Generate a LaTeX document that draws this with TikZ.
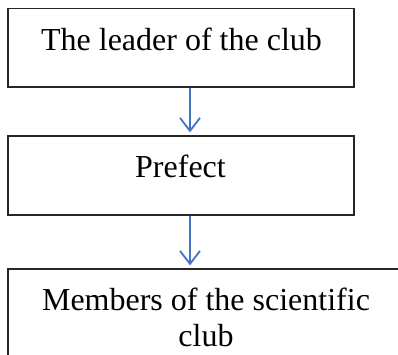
\documentclass[tikz,border=0pt]{standalone}
\usepackage{fontspec}
\setmainfont{Liberation Serif}
\usetikzlibrary{arrows.meta}
\definecolor{arrowblue}{RGB}{68,114,196}
\tikzset{
  box/.style={draw=black!85, line width=1.3pt, minimum width=346pt, inner sep=0pt},
  label/.style={font=\fontsize{32}{36}\selectfont, align=center, inner sep=0pt, anchor=base},
  arr/.style={draw=arrowblue, line width=1.8pt, -{Straight Barb[length=13pt,width=20pt,line width=1.8pt]}, shorten >=3pt}
}
\begin{document}
\begin{tikzpicture}[x=1pt,y=-1pt]
\clip (0,0) rectangle (398,354);
\fill[white] (0,0) rectangle (398,354);
\node[box, minimum height=78.3pt] (top) at (181,47.85) {};
\node[box, minimum height=79pt] (mid) at (181,175.5) {};
\node[box, minimum width=396pt, minimum height=110pt] (bot) at (206,324) {};
\node[label] (t1) at (181.5,50.7) {The leader of the club};
\node[label] (t2) at (180.5,177) {Prefect};
\node[label, anchor=base] (t3) at (206,310) {Members of the scientific};
\node[label] (t4) at (206,346) {club};
\coordinate (ax) at (190,0);
\draw[arr] (top.south -| ax) -- (mid.north -| ax);
\draw[arr] (mid.south -| ax) -- (bot.north -| ax);
\end{tikzpicture}
\end{document}
